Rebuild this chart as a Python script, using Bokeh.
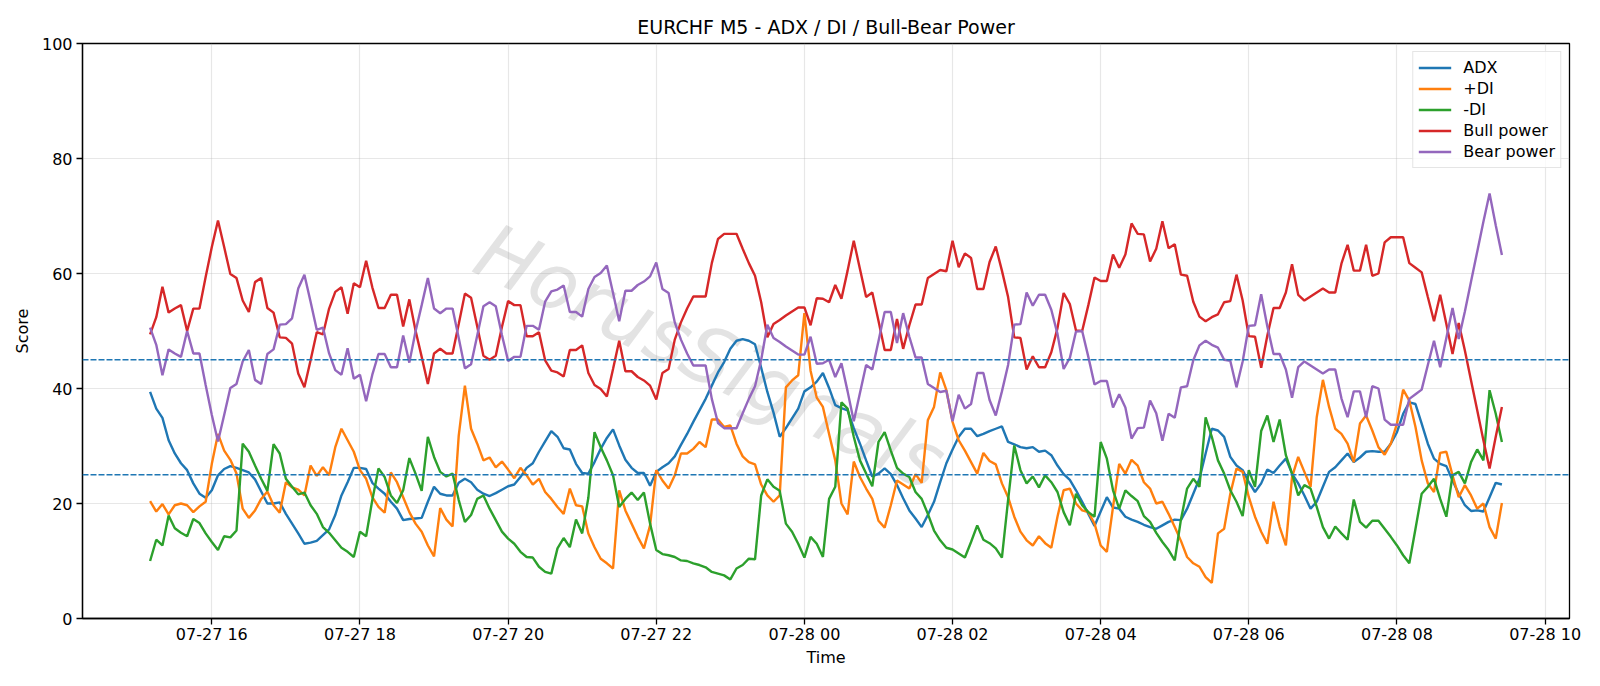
import pandas as pd
from bokeh.plotting import figure
from bokeh.models import (Range1d, FixedTicker, DatetimeTickFormatter, Span,
                          ColumnDataSource)
from bokeh.core.properties import value
from bokeh.embed import file_html
from bokeh.resources import INLINE

# ---------------- data ----------------
start_time = "2025-07-27 15:10"
bar_freq = "5min"

adx = [
    39.4, 36.5, 34.9, 31.0, 28.7, 27.0, 25.8, 23.5, 21.7, 21.0,
    22.3, 24.9, 26.0, 26.5, 26.2, 25.8, 25.4, 24.2, 22.1, 20.0,
    20.0, 20.2, 18.2, 16.5, 14.8, 13.0, 13.2, 13.5, 14.5, 15.5,
    18.0, 21.4, 23.7, 26.2, 26.2, 26.0, 23.6, 22.6, 21.7, 20.3,
    19.1, 17.1, 17.3, 17.4, 17.5, 20.3, 22.9, 21.7, 21.4, 21.4,
    23.6, 24.3, 23.7, 22.4, 21.7, 21.3, 21.8, 22.4, 23.0, 23.3,
    24.6, 26.2, 27.0, 29.0, 30.8, 32.6, 31.6, 29.6, 29.4, 26.9,
    25.3, 25.2, 27.2, 29.5, 31.4, 32.9, 30.1, 27.6, 26.2, 25.3,
    25.3, 23.1, 25.5, 26.3, 27.0, 28.2, 30.2, 32.1, 34.2, 36.2,
    38.2, 40.5, 42.8, 44.6, 46.9, 48.3, 48.6, 48.3, 47.7, 43.6,
    39.4, 35.8, 31.6, 33.1, 34.8, 36.5, 39.5, 40.2, 41.2, 42.7,
    40.1, 37.1, 36.6, 36.2, 33.1, 30.4, 27.5, 24.7, 25.2, 26.1,
    25.1, 23.2, 20.9, 18.8, 17.4, 15.9, 18.0, 20.3, 23.7, 27.0,
    29.4, 31.6, 33.0, 33.0, 31.7, 32.1, 32.6, 33.0, 33.4, 30.7,
    30.3, 29.8, 29.6, 29.8, 29.0, 29.2, 28.4, 26.6, 25.1, 24.1,
    22.3, 20.3, 18.2, 16.1, 18.6, 21.1, 19.3, 19.1, 17.7, 17.2,
    16.8, 16.3, 15.9, 15.6, 16.2, 16.8, 17.2, 17.1, 19.1, 21.7,
    24.3, 28.7, 33.0, 32.7, 31.6, 28.1, 26.6, 25.8, 23.7, 22.0,
    23.5, 25.9, 25.3, 26.6, 27.8, 25.2, 23.5, 21.4, 19.1, 20.3,
    22.9, 25.5, 26.3, 27.5, 28.7, 27.2, 28.0, 29.0, 29.1, 29.0,
    29.0, 30.4, 32.4, 35.6, 37.6, 37.3, 33.9, 30.4, 27.8, 26.9,
    26.5, 24.0, 21.7, 19.7, 18.7, 18.8, 18.6, 21.1, 23.6, 23.3,
]

plus_di = [
    20.4, 18.6, 19.9, 18.1, 19.7, 20.0, 19.7, 18.5, 19.5, 20.3,
    26.9, 32.1, 29.2, 27.6, 25.2, 19.1, 17.5, 18.8, 20.8, 22.1,
    19.7, 18.4, 23.7, 22.8, 22.4, 21.4, 26.6, 24.8, 26.3, 24.9,
    29.8, 33.0, 31.0, 29.0, 25.8, 24.3, 21.1, 19.4, 18.4, 25.4,
    23.7, 21.1, 18.5, 16.5, 15.1, 12.7, 10.8, 19.2, 17.2, 16.0,
    31.8, 40.5, 33.0, 30.4, 27.5, 28.0, 26.3, 27.3, 25.9, 24.4,
    26.2, 24.9, 23.3, 24.3, 22.0, 20.8, 19.4, 18.2, 22.6, 19.7,
    19.5, 14.8, 12.4, 10.4, 9.6, 8.7, 22.3, 18.8, 16.5, 14.2,
    12.2, 16.2, 25.8, 24.0, 22.6, 24.9, 28.7, 28.7, 29.5, 30.7,
    29.8, 34.6, 34.6, 33.3, 33.6, 30.4, 28.2, 27.2, 26.8, 23.3,
    21.4, 20.3, 21.4, 40.2, 41.4, 42.3, 53.1, 43.1, 38.4, 36.8,
    32.1, 27.5, 20.0, 18.1, 27.3, 24.6, 22.6, 20.8, 17.0, 15.8,
    19.7, 24.0, 23.3, 22.6, 25.1, 23.6, 34.5, 36.8, 42.8, 39.7,
    34.2, 31.0, 29.2, 27.2, 25.2, 28.8, 27.4, 26.8, 23.5, 21.1,
    17.7, 15.1, 13.6, 12.7, 14.3, 13.1, 12.3, 17.7, 22.3, 22.6,
    20.0, 18.8, 18.5, 16.5, 12.7, 11.6, 19.4, 26.9, 25.2, 27.6,
    26.6, 23.7, 22.6, 20.0, 20.3, 18.2, 15.9, 13.5, 10.7, 9.6,
    9.0, 7.2, 6.2, 14.8, 15.6, 21.7, 26.1, 25.5, 21.1, 17.7,
    15.1, 13.0, 20.3, 15.9, 12.7, 24.6, 28.1, 25.5, 22.9, 35.0,
    41.5, 36.8, 33.0, 32.1, 30.4, 27.2, 33.9, 35.3, 32.7, 29.8,
    28.5, 30.4, 33.9, 39.8, 37.9, 33.3, 27.5, 23.5, 22.0, 28.8,
    29.0, 24.9, 21.1, 23.2, 21.4, 19.1, 20.0, 15.9, 13.9, 20.1,
]

minus_di = [
    10.0, 13.7, 12.7, 17.9, 15.7, 14.9, 14.3, 17.3, 16.6, 14.8,
    13.3, 11.9, 14.3, 14.1, 15.3, 30.4, 29.0, 26.6, 24.3, 22.2,
    30.3, 28.7, 24.3, 22.9, 21.6, 21.9, 19.7, 18.2, 15.9, 14.9,
    13.6, 12.3, 11.6, 10.7, 15.1, 14.3, 20.6, 26.1, 24.6, 21.4,
    20.1, 22.3, 27.9, 25.2, 22.2, 31.6, 28.1, 25.5, 24.7, 25.2,
    20.6, 16.8, 18.0, 20.8, 21.4, 19.1, 17.1, 15.1, 13.9, 13.0,
    11.6, 10.7, 10.6, 9.0, 8.1, 7.8, 12.2, 14.0, 12.4, 17.2,
    14.8, 21.0, 32.4, 29.8, 27.5, 24.9, 19.4, 20.8, 21.9, 20.6,
    21.9, 16.5, 11.9, 11.2, 11.0, 10.7, 10.1, 10.0, 9.6, 9.3,
    8.9, 8.1, 7.8, 7.5, 6.8, 8.7, 9.3, 10.4, 10.3, 21.4,
    24.2, 22.9, 22.2, 16.5, 15.1, 13.0, 10.6, 14.2, 13.0, 10.7,
    20.8, 22.9, 37.6, 36.5, 31.6, 27.5, 25.2, 23.0, 30.7, 32.4,
    29.2, 26.2, 25.2, 24.6, 22.0, 20.8, 18.2, 15.3, 13.6, 12.3,
    12.0, 11.3, 10.6, 13.3, 16.2, 13.7, 13.1, 12.2, 10.6, 20.6,
    30.1, 25.8, 23.5, 24.7, 22.8, 24.9, 23.7, 22.0, 18.5, 16.2,
    21.7, 19.7, 18.5, 17.7, 30.7, 27.8, 22.3, 19.1, 22.3, 21.3,
    20.4, 17.8, 16.8, 14.9, 13.3, 11.9, 10.1, 17.2, 22.6, 24.3,
    22.9, 35.0, 31.6, 27.5, 25.2, 22.3, 20.3, 17.8, 25.8, 22.9,
    32.6, 35.3, 30.7, 34.6, 28.4, 25.2, 21.4, 23.2, 22.6, 19.4,
    15.9, 13.9, 16.0, 14.8, 13.7, 20.7, 16.8, 15.8, 17.0, 17.0,
    15.6, 14.2, 12.7, 11.0, 9.6, 15.6, 21.7, 22.9, 24.3, 20.8,
    17.7, 24.9, 25.5, 23.5, 27.2, 29.4, 27.5, 39.7, 35.6, 30.7,
]

bull_power = [
    49.4, 52.4, 57.7, 53.2, 53.9, 54.5, 50.0, 53.9, 53.9, 59.4,
    64.6, 69.2, 64.6, 59.9, 59.2, 55.3, 53.3, 58.5, 59.2, 54.0,
    53.2, 48.9, 48.8, 47.8, 42.6, 40.2, 44.9, 49.8, 49.4, 53.9,
    56.8, 57.6, 53.0, 58.3, 57.6, 62.2, 57.6, 54.0, 54.0, 56.3,
    56.3, 50.8, 55.5, 50.1, 45.5, 40.8, 46.1, 46.9, 46.1, 46.1,
    51.2, 56.5, 55.8, 50.8, 45.7, 45.0, 45.7, 50.7, 55.2, 54.5,
    54.5, 49.1, 49.1, 49.8, 44.9, 43.1, 42.8, 42.1, 46.7, 46.7,
    47.5, 42.7, 40.6, 39.9, 38.6, 43.4, 48.3, 43.0, 43.0, 42.0,
    41.4, 40.5, 38.1, 42.7, 43.4, 48.5, 51.5, 53.9, 56.0, 56.0,
    56.0, 61.8, 66.0, 66.9, 66.9, 66.9, 64.3, 61.8, 59.6, 55.0,
    48.9, 51.2, 51.9, 52.7, 53.4, 54.1, 54.1, 51.0, 55.7, 55.6,
    55.0, 58.0, 55.6, 60.5, 65.7, 60.8, 55.9, 56.7, 51.8, 46.7,
    46.7, 52.1, 46.9, 51.0, 54.6, 54.6, 59.2, 59.9, 60.6, 60.4,
    65.7, 61.1, 63.5, 62.7, 57.3, 57.3, 62.0, 64.7, 60.5, 55.9,
    48.9, 48.8, 43.3, 45.6, 43.7, 43.7, 46.3, 50.5, 56.6, 54.7,
    50.1, 50.0, 54.5, 59.3, 58.7, 58.7, 63.3, 61.0, 63.3, 68.7,
    66.9, 66.8, 62.1, 64.3, 69.1, 64.4, 65.1, 59.8, 59.6, 55.1,
    52.5, 51.7, 52.4, 52.9, 55.0, 55.2, 59.8, 55.3, 49.1, 49.0,
    43.6, 49.2, 54.0, 54.0, 56.7, 61.6, 56.3, 55.3, 56.0, 56.7,
    57.4, 56.7, 56.7, 61.7, 65.0, 60.5, 60.5, 65.0, 59.6, 60.0,
    65.4, 66.3, 66.3, 66.3, 61.8, 61.0, 60.2, 55.9, 51.7, 56.3,
    51.2, 46.0, 51.4, 46.6, 41.4, 36.2, 31.0, 26.1, 31.6, 36.8,
]

bear_power = [
    50.6, 47.6, 42.3, 46.8, 46.1, 45.5, 50.0, 46.1, 46.1, 40.6,
    35.4, 30.8, 35.4, 40.1, 40.8, 44.7, 46.7, 41.5, 40.8, 46.0,
    46.8, 51.1, 51.2, 52.2, 57.4, 59.8, 55.1, 50.2, 50.6, 46.1,
    43.2, 42.4, 47.0, 41.7, 42.4, 37.8, 42.4, 46.0, 46.0, 43.7,
    43.7, 49.2, 44.5, 49.9, 54.5, 59.2, 53.9, 53.1, 53.9, 53.9,
    48.8, 43.5, 44.2, 49.2, 54.3, 55.0, 54.3, 49.3, 44.8, 45.5,
    45.5, 50.9, 50.9, 50.2, 55.1, 56.9, 57.2, 57.9, 53.3, 53.3,
    52.5, 57.3, 59.4, 60.1, 61.4, 56.6, 51.7, 57.0, 57.0, 58.0,
    58.6, 59.5, 61.9, 57.3, 56.6, 51.5, 48.5, 46.1, 44.0, 44.0,
    44.0, 38.2, 34.0, 33.1, 33.1, 33.1, 35.7, 38.2, 40.4, 45.0,
    51.1, 48.8, 48.1, 47.3, 46.6, 45.9, 45.9, 49.0, 44.3, 44.4,
    45.0, 42.0, 44.4, 39.5, 34.3, 39.2, 44.1, 43.3, 48.2, 53.3,
    53.3, 47.9, 53.1, 49.0, 45.4, 45.4, 40.8, 40.1, 39.4, 39.6,
    34.3, 38.9, 36.5, 37.3, 42.7, 42.7, 38.0, 35.3, 39.5, 44.1,
    51.1, 51.2, 56.7, 54.4, 56.3, 56.3, 53.7, 49.5, 43.4, 45.3,
    49.9, 50.0, 45.5, 40.7, 41.3, 41.3, 36.7, 39.0, 36.7, 31.3,
    33.1, 33.2, 37.9, 35.7, 30.9, 35.6, 34.9, 40.2, 40.4, 44.9,
    47.5, 48.3, 47.6, 47.1, 45.0, 44.8, 40.2, 44.7, 50.9, 51.0,
    56.4, 50.8, 46.0, 46.0, 43.3, 38.4, 43.7, 44.7, 44.0, 43.3,
    42.6, 43.3, 43.3, 38.3, 35.0, 39.5, 39.5, 35.0, 40.4, 40.0,
    34.6, 33.7, 33.7, 33.7, 38.2, 39.0, 39.8, 44.1, 48.3, 43.7,
    48.8, 54.0, 48.6, 53.4, 58.6, 63.8, 69.0, 73.9, 68.4, 63.2,
]

series_names = ["ADX", "+DI", "-DI", "Bull power", "Bear power"]
threshold_levels = [45, 25]
y_ticks = [0, 20, 40, 60, 80, 100]
tick_times = ["2025-07-27 16:00", "2025-07-27 18:00", "2025-07-27 20:00",
              "2025-07-27 22:00", "2025-07-28 00:00", "2025-07-28 02:00",
              "2025-07-28 04:00", "2025-07-28 06:00", "2025-07-28 08:00",
              "2025-07-28 10:00"]
tick_labels = ["07-27 16", "07-27 18", "07-27 20", "07-27 22", "07-28 00",
               "07-28 02", "07-28 04", "07-28 06", "07-28 08", "07-28 10"]
title_text = "EURCHF M5 - ADX / DI / Bull-Bear Power"
watermark_text = "HorusSignals"

# ---------------- build ----------------
times = pd.date_range(start_time, periods=len(adx), freq=bar_freq)
source = ColumnDataSource(dict(t=times, adx=adx, pdi=plus_di, mdi=minus_di,
                               bull=bull_power, bear=bear_power))

span_t = times[-1] - times[0]
x_start = times[0] - 0.05 * span_t
x_end = times[-1] + 0.05 * span_t

FONT = "DejaVu Sans"

p = figure(width=1600, height=686, x_axis_type="datetime",
           x_range=Range1d(x_start, x_end), y_range=Range1d(0, 100),
           output_backend="svg", toolbar_location=None,
           min_border_left=82, min_border_right=31,
           min_border_top=43, min_border_bottom=68,
           background_fill_color="white", border_fill_color="white")

p.title.text = title_text
p.title.align = "center"
p.title.text_font = FONT
p.title.text_font_size = "19px"
p.title.text_font_style = "normal"
p.title.text_color = "black"
p.title.standoff = 11

# watermark (drawn first, behind the lines)
wm_x = pd.Timestamp("2025-07-27 22:44").value / 1e6
p.text(x=[wm_x], y=[45.5], text=[watermark_text], angle=-0.45,
       text_align="center", text_baseline="middle",
       text_font=value(FONT), text_font_style="italic",
       text_font_size="78px", text_color="#9a9a9a", text_alpha=0.28)

colors = ["#1f77b4", "#ff7f0e", "#2ca02c", "#d62728", "#9467bd"]
cols = ["adx", "pdi", "mdi", "bull", "bear"]
for col, name, c in zip(cols, series_names, colors):
    p.line("t", col, source=source, line_color=c, line_width=2.4,
           legend_label=name)

for lvl in threshold_levels:
    p.add_layout(Span(location=lvl, dimension="width", line_color="#1f77b4",
                      line_dash="6 2", line_width=1.5))

# axes
p.xaxis.ticker = FixedTicker(ticks=[pd.Timestamp(t).value / 1e6 for t in tick_times])
p.xaxis.formatter = DatetimeTickFormatter(hours="%m-%d %H", hourmin="%m-%d %H",
                                          days="%m-%d %H", minutes="%m-%d %H")
p.xaxis.major_label_overrides = {pd.Timestamp(t).value / 1e6: lab
                                 for t, lab in zip(tick_times, tick_labels)}
p.yaxis.ticker = FixedTicker(ticks=y_ticks)
p.xaxis.axis_label = "Time"
p.yaxis.axis_label = "Score"

for ax in (p.xaxis, p.yaxis):
    ax.axis_label_text_font = FONT
    ax.axis_label_text_font_size = "16px"
    ax.axis_label_text_font_style = "normal"
    ax.axis_label_text_color = "black"
    ax.major_label_text_font = FONT
    ax.major_label_text_font_size = "16px"
    ax.major_label_text_color = "black"
    ax.axis_line_color = "black"
    ax.axis_line_width = 1.3
    ax.major_tick_line_color = "black"
    ax.major_tick_line_width = 1.3
    ax.major_tick_out = 6
    ax.major_tick_in = 0
    ax.minor_tick_out = 0
    ax.minor_tick_in = 0
p.xaxis.major_label_standoff = 0
p.yaxis.major_label_standoff = 4
p.xaxis.axis_label_standoff = 1
p.yaxis.axis_label_standoff = 7

p.outline_line_color = "black"
p.outline_line_width = 1.3
p.outline_line_alpha = 1.0

for g in (p.xgrid, p.ygrid):
    g.grid_line_color = "#b0b0b0"
    g.grid_line_alpha = 0.3
    g.grid_line_width = 1.2

leg = p.legend[0]
leg.location = "top_right"
leg.margin = 8
leg.padding = 5
leg.spacing = 0
leg.glyph_width = 33
leg.glyph_height = 21
leg.label_height = 21
leg.label_standoff = 12
leg.label_text_font = FONT
leg.label_text_font_size = "16px"
leg.label_text_color = "black"
leg.border_line_color = "#cccccc"
leg.border_line_width = 1
leg.background_fill_color = "white"
leg.background_fill_alpha = 0.8

open("out.html", "w").write(file_html(p, INLINE))
